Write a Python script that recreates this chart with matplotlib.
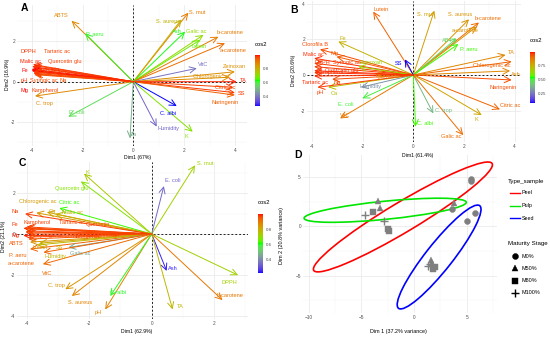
import numpy as np
import matplotlib
matplotlib.use("Agg")
import matplotlib.pyplot as plt
from matplotlib.colors import ListedColormap, Normalize
from matplotlib.cm import ScalarMappable
from matplotlib.patches import Ellipse
from matplotlib.lines import Line2D

plt.rcParams['font.family'] = ['Liberation Sans', 'DejaVu Sans']

# ---------------- DATA ----------------
# Panel A (Dim1 67%, Dim2 16.9%)
names_A = ["ABTS", "P. aeru", "S. mut", "S. aureus", "Ash", "Galic ac", "Lutein", "b-carotene",
           "a-carotene", "VitC", "Zeinoxan", "Chlorogenic ac", "TA", "Citric ac", "SS", "Naringenin",
           "C. albi", "Humidity", "K", "Ca", "E. coli", "C. trop", "DPPH", "Tartaric ac", "Malic ac",
           "Quercetin glu", "Fe", "Quercetin", "Clorofila B", "pH", "Syringic ac", "Na", "Mg", "Kampherol"]
x_A = [-2.43, -1.90, 2.17, 1.90, 2.04, 2.76, 2.63, 3.35, 3.61, 2.50, 4.00, 3.80, 4.07, 3.94, 4.00, 4.00,
       1.71, 0.92, 2.34, -0.13, -2.56, -3.87, -3.95, -3.90, -3.98, -3.92, -4.00, -3.95, -3.90, -3.93,
       -3.85, -3.90, -4.00, -3.92]
y_A = [3.01, 2.39, 3.41, 3.08, 2.47, 2.31, 2.06, 2.22, 1.90, 0.66, 0.49, 0.22, 0.00, -0.28, -0.54, -0.66,
       -1.20, -2.22, -2.47, -2.80, -1.73, -0.71, 0.85, 0.80, 0.75, 0.70, 0.62, 0.58, 0.50, 0.42,
       0.38, 0.35, 0.55, 0.48]
cos2_A = [0.88, 0.62, 0.90, 0.80, 0.63, 0.72, 0.68, 0.90, 0.92, 0.40, 0.87, 0.87, 0.99, 0.97, 0.98, 0.94,
          0.27, 0.38, 0.70, 0.50, 0.58, 0.88, 0.98, 0.97, 0.99, 0.97, 1.00, 0.98, 0.97, 0.98,
          0.96, 0.96, 1.00, 0.97]

# Panel B (Dim1 61.4%, Dim2 20.6%)
names_B = ["Lutein", "S. mut", "S. aureus", "b-carotene", "a-carotene", "ABTS", "P. aeru", "TA",
           "Chlorogenic ac", "Ash", "Naringenin", "Citric ac", "K", "C. trop", "C. albi", "Galic ac",
           "VitC", "E. coli", "Humidity", "Ca", "pH", "Na", "Tartaric ac", "Fe", "Clorofila B",
           "Malic ac", "Mg", "DPPH", "Syringic ac", "Zeinoxan", "Quercetin", "SS", "Quercetin glu",
           "Kampherol"]
x_B = [-1.58, 0.83, 2.20, 2.59, 2.50, 1.71, 1.78, 3.64, 3.88, 3.82, 3.88, 3.42, 2.70, 0.79, 0.09, 1.97,
       -2.89, -2.01, -2.07, -3.36, -3.78, -3.20, -3.91, -2.96, -3.68, -3.91, -3.03, -3.91, -3.91,
       -2.17, -1.51, -0.33, -3.91, -3.91]
y_B = [3.56, 3.62, 3.13, 2.95, 2.72, 2.06, 1.74, 1.13, 0.75, 0.23, -0.28, -1.93, -2.25, -2.16, -2.91,
       -3.38, -2.44, -1.31, -0.69, -0.69, -0.69, -0.24, -0.06, 1.88, 1.44, 0.94, 1.03, 0.66, 0.47,
       0.47, 0.06, 0.88, 0.24, 0.13]
cos2_B = [0.92, 0.80, 0.82, 0.90, 0.83, 0.45, 0.55, 0.85, 0.92, 0.85, 0.95, 0.92, 0.78, 0.38, 0.55, 0.90,
          0.88, 0.50, 0.30, 0.72, 0.97, 0.95, 0.98, 0.75, 0.95, 0.98, 0.93, 0.97, 0.97, 0.65, 0.85,
          0.07, 0.98, 0.98]

# Panel C (Dim1 62.9%, Dim2 21.1%)
names_C = ["S. mut", "K", "Quercetin glu", "E. coli", "Chlorogenic ac", "Citric ac", "Ca", "Malic ac",
           "Na", "Fe", "Kampherol", "Tartaric ac", "Quercetin", "Mg", "Syringic ac", "Clorofila B",
           "ABTS", "Lutein", "SS", "P. aeru", "Humidity", "Galic ac", "a-carotene", "VitC", "C. trop",
           "S. aureus", "pH", "C. albi", "Ash", "TA", "DPPH", "b-carotene", "Naringenin", "Zeinoxan"]
x_C = [1.39, -2.17, -2.27, 0.39, -3.70, -2.96, -3.36, -3.10, -4.06, -4.11, -4.00, -4.00, -4.05, -4.11,
       -4.05, -3.95, -3.95, -3.90, -3.60, -3.90, -3.68, -2.67, -3.47, -3.49, -2.77, -2.56, -1.49,
       -1.33, 0.48, 0.67, 2.77, 2.27, -4.00, -3.95]
y_C = [3.37, 2.96, 2.58, 2.35, 1.04, 1.27, 1.07, 0.98, 0.99, 0.28, 0.35, 0.30, 0.25, -0.08, 0.10, 0.05,
       -0.25, -0.40, -0.45, -0.74, -0.54, -0.66, -0.90, -1.48, -2.71, -3.04, -3.70, -3.04, -1.81,
       -3.70, -2.02, -3.24, 0.15, -0.15]
cos2_C = [0.72, 0.74, 0.68, 0.34, 0.84, 0.62, 0.82, 0.80, 0.97, 0.98, 0.97, 0.96, 0.96, 0.99, 0.97,
          0.96, 0.95, 0.85, 0.82, 0.93, 0.78, 0.45, 0.93, 0.92, 0.85, 0.88, 0.88, 0.60, 0.24, 0.78,
          0.72, 0.90, 0.97, 0.96]

# Panel D (individuals)
ind_x = [5.40, 5.45, 3.75, -2.50, -2.35, -2.85, 3.60, -3.45, -3.25, -3.90, -4.60, 5.05, 5.80,
         1.60, 1.75, 1.80, 1.95, 1.35, 1.50]
ind_y = [4.80, 4.60, 2.40, -0.25, -0.50, 0.50, 1.75, 2.55, 1.85, 1.45, 1.15, 0.50, 1.35,
         -3.45, -3.70, -4.30, -4.10, -4.00, -3.80]
ind_stage = ["M0%", "M0%", "M50%", "M80%", "M80%", "M100%", "M0%", "M50%", "M50%", "M80%", "M100%",
             "M0%", "M0%", "M50%", "M50%", "M80%", "M80%", "M100%", "M100%"]
types = ["Peel", "Pulp", "Seed"]
stages = ["M0%", "M50%", "M80%", "M100%"]
# confidence ellipses: centre x, centre y, semi-major, semi-minor, angle (deg)
ell_cx = [-1.05, -2.73, 2.38]
ell_cy = [0.95, 1.63, -3.12]
ell_a = [10.05, 7.73, 6.48]
ell_b = [1.48, 0.92, 1.29]
ell_ang = [32.8, 6.05, 53.7]

# ---------------- LAYOUT (label placements) ----------------
lab_A = [(-2.82, 3.29), (-1.50, 2.34), (2.52, 3.41), (1.38, 2.96), (1.71, 2.47), (2.47, 2.47), (2.59, 1.76),
         (3.81, 2.44), (3.94, 1.53), (2.76, 0.87), (4.00, 0.74), (3.09, 0.28), (4.31, 0.05), (3.61, -0.28),
         (4.27, -0.57), (3.61, -1.04), (1.38, -1.56), (1.38, -2.30), (2.10, -2.72), (0.02, -2.63),
         (-2.23, -1.53), (-3.48, -1.07), (-4.13, 1.48), (-3.02, 1.48), (-4.04, 1.02), (-2.69, 1.02),
         (-4.29, 0.54), (-3.35, 0.60), (-3.15, 0.45), (-4.30, 0.07), (-3.54, 0.07), (-2.76, 0.07),
         (-4.30, -0.41), (-3.48, -0.41)]
lab_B = [(-1.28, 3.70), (0.46, 3.38), (1.84, 3.38), (2.96, 3.19), (2.04, 2.48), (1.41, 1.93), (2.17, 1.44),
         (3.88, 1.28), (3.09, 0.53), (4.04, 0.00), (3.55, -0.69), (3.82, -1.69), (2.50, -2.50),
         (1.18, -1.97), (0.46, -2.72), (1.49, -3.47), (-2.70, -2.25), (-2.67, -1.63), (-1.67, -0.62),
         (-3.12, -1.03), (-3.68, -0.99), (-2.99, -0.43), (-3.86, -0.43), (-2.80, 2.06), (-3.86, 1.69),
         (-3.95, 1.13), (-3.12, 1.22), (-3.59, 0.69), (-2.63, 0.69), (-1.64, 0.69), (-0.99, -0.06),
         (-0.59, 0.66), (-2.83, 0.28), (-3.30, 0.12)]
lab_C = [(1.72, 3.45), (-2.06, 3.01), (-2.56, 2.25), (0.67, 2.63), (-3.66, 1.60), (-2.64, 1.56),
         (-3.20, 1.10), (-2.53, 1.04), (-4.38, 1.10), (-4.38, 0.49), (-3.68, 0.54), (-2.56, 0.54),
         (-1.71, 0.49), (-4.36, -0.05), (-3.26, -0.08), (-2.40, -0.08), (-4.33, -0.49), (-3.58, -0.66),
         (-2.96, -0.66), (-4.30, -1.04), (-3.09, -1.10), (-2.29, -0.94), (-4.18, -1.43), (-3.36, -1.92),
         (-3.06, -2.52), (-2.29, -3.37), (-1.71, -3.83), (-1.07, -2.85), (0.69, -1.69), (0.91, -3.54),
         (2.49, -2.38), (2.51, -3.01), (-2.10, -0.12), (-1.40, -0.05)]

W, H = 550, 338

M_RGB2XYZ = np.array([[0.4124564, 0.3575761, 0.1804375],
                      [0.2126729, 0.7151522, 0.0721750],
                      [0.0193339, 0.1191920, 0.9503041]])
WHITE = np.array([0.95047, 1.0, 1.08883])


def lab_from_rgb(rgb):
    c = np.asarray(rgb, float)
    lin = np.where(c <= 0.04045, c / 12.92, ((c + 0.055) / 1.055) ** 2.4)
    xyz = M_RGB2XYZ @ lin / WHITE
    d = 6 / 29
    f = np.where(xyz > d ** 3, np.cbrt(xyz), xyz / (3 * d * d) + 4 / 29)
    return np.array([116 * f[1] - 16, 500 * (f[0] - f[1]), 200 * (f[1] - f[2])])


def rgb_from_lab(lab):
    L, a, b = lab
    fy = (L + 16) / 116
    f = np.array([fy + a / 500, fy, fy - b / 200])
    d = 6 / 29
    t = np.where(f > d, f ** 3, 3 * d * d * (f - 4 / 29))
    lin = np.linalg.inv(M_RGB2XYZ) @ (t * WHITE)
    lin = np.clip(lin, 0, 1)
    c = np.where(lin <= 0.0031308, 12.92 * lin, 1.055 * lin ** (1 / 2.4) - 0.055)
    return np.clip(c, 0, 1)


stops = [lab_from_rgb(c) for c in [(0, 0, 1), (0, 1, 0), (1, 0, 0)]]
cols = []
for t in np.linspace(0, 1, 256):
    if t <= 0.5:
        u = t / 0.5
        lab = stops[0] * (1 - u) + stops[1] * u
    else:
        u = (t - 0.5) / 0.5
        lab = stops[1] * (1 - u) + stops[2] * u
    cols.append(rgb_from_lab(lab))
CMAP = ListedColormap(cols)

fig = plt.figure(figsize=(W / 100, H / 100), dpi=100)


def px_rect(x0, y0, x1, y1):
    return [x0 / W, 1 - y1 / H, (x1 - x0) / W, (y1 - y0) / H]


GRID_MAJ = '#EBEBEB'
GRID_MIN = '#F5F5F5'
TICK_COL = '#4D4D4D'


def style_axes(ax, xmaj, ymaj, xmin, ymin, xpad=1.5, ypad=1.5):
    for s in ax.spines.values():
        s.set_visible(False)
    ax.set_xticks(xmaj)
    ax.set_yticks(ymaj)
    ax.set_xticks(xmin, minor=True)
    ax.set_yticks(ymin, minor=True)
    ax.grid(True, which='major', color=GRID_MAJ, lw=0.6)
    ax.grid(True, which='minor', color=GRID_MIN, lw=0.35)
    ax.set_axisbelow(True)
    ax.tick_params(which='both', length=0, labelsize=3.4, colors=TICK_COL)
    ax.tick_params(axis='x', pad=xpad)
    ax.tick_params(axis='y', pad=ypad)


def biplot(px, mapping, names, xs, ys, c2, labs, vmin, vmax, xlabel, ylabel, xl_pos, yl_pos,
           letter, letter_pos, cbar_px, cbar_ticks, cbar_fmt, xmaj, ymaj, xmin, ymin):
    x0, y0, x1, y1 = px
    xz, xs_, yz, ys_ = mapping
    ax = fig.add_axes(px_rect(x0, y0, x1, y1))
    ax.set_xlim((x0 - xz) / xs_, (x1 - xz) / xs_)
    ax.set_ylim((yz - y1) / ys_, (yz - y0) / ys_)
    style_axes(ax, xmaj, ymaj, xmin, ymin)
    ax.set_xticklabels([f"{v:g}" for v in xmaj])
    ax.set_yticklabels([f"{v:g}" for v in ymaj])
    ax.axhline(0, color='#222222', lw=0.7, ls=(0, (2, 2)), zorder=1)
    ax.axvline(0, color='#222222', lw=0.7, ls=(0, (2, 2)), zorder=1)
    norm = Normalize(vmin, vmax)
    for n, x, y, c in zip(names, xs, ys, c2):
        col = CMAP(norm(c))
        ax.annotate('', xy=(x, y), xytext=(0, 0),
                    arrowprops=dict(arrowstyle='->,head_length=0.45,head_width=0.22', lw=0.7,
                                    color=col, shrinkA=0, shrinkB=0), zorder=2)
    for n, c, (lx, ly) in zip(names, c2, labs):
        col = CMAP(norm(c))
        ax.text(lx, ly, n, color=col, fontsize=4.1, ha='center', va='center', zorder=3)
    fig.text(xl_pos[0] / W, 1 - xl_pos[1] / H, xlabel, fontsize=3.7, ha='center', va='center')
    fig.text(yl_pos[0] / W, 1 - yl_pos[1] / H, ylabel, fontsize=3.7, ha='center', va='center',
             rotation=90)
    fig.text(letter_pos[0] / W, 1 - letter_pos[1] / H, letter, fontsize=7.5, fontweight='bold',
             ha='center', va='center')
    cx0, cy0, cx1, cy1 = cbar_px
    cax = fig.add_axes(px_rect(cx0, cy0, cx1, cy1))
    cb = fig.colorbar(ScalarMappable(norm=norm, cmap=CMAP), cax=cax, ticks=cbar_ticks)
    cb.outline.set_visible(False)
    cb.ax.set_yticklabels([cbar_fmt.format(t) for t in cbar_ticks])
    cb.ax.tick_params(length=1.2, width=0.4, color='white', labelsize=3.2, labelcolor=TICK_COL, pad=1)
    fig.text(cx0 / W, 1 - (cy0 - 11) / H, "cos2", fontsize=4.2, ha='left', va='center')
    return ax


biplot((17, 5, 247, 146), (133.3, 25.4, 81.7, 20.25), names_A, x_A, y_A, cos2_A, lab_A, 0.27, 1.0,
       "Dim1 (67%)", "Dim2 (16.9%)", (137, 157), (8, 74), "A", (24, 8),
       (255, 55, 260, 106), [0.4, 0.6, 0.8], "{:.1f}",
       [-4, -2, 0, 2, 4], [-2, 0, 2], [-3, -1, 1, 3], [-3, -1, 1, 3])

biplot((307, 1, 521, 142), (413.3, 25.35, 75, 17.8), names_B, x_B, y_B, cos2_B, lab_B, 0.07, 1.0,
       "Dim1 (61.4%)", "Dim2 (20.6%)", (418, 155), (293, 70), "B", (294, 10),
       (530, 52, 535, 103), [0.25, 0.50, 0.75], "{:.2f}",
       [-4, -2, 0, 2, 4], [-2, 0, 2, 4], [-3, -1, 1, 3], [-3, -1, 1, 3])

biplot((17, 162, 248, 319), (151.7, 31.2, 234, 20.4), names_C, x_C, y_C, cos2_C, lab_C, 0.22, 1.0,
       "Dim1 (62.9%)", "Dim2 (21.1%)", (137, 332), (3.5, 236), "C", (22, 163),
       (258, 214, 263, 273), [0.4, 0.6, 0.8], "{:.1f}",
       [-4, -2, 0, 2], [-4, -2, 0, 2], [-3, -1, 1, 3], [-3, -1, 1, 3])

# ---------------- Panel D ----------------
x0, y0, x1, y1 = 303, 155, 497, 313
xz, xsc, yz, ysc = 414, 10.55, 226.3, 9.84
axd = fig.add_axes(px_rect(x0, y0, x1, y1))
axd.set_xlim((x0 - xz) / xsc, (x1 - xz) / xsc)
axd.set_ylim((yz - y1) / ysc, (yz - y0) / ysc)
style_axes(axd, [-10, -5, 0, 5], [-5, 0, 5], [-7.5, -2.5, 2.5, 7.5], [-7.5, -2.5, 2.5])
type_cols = {"Peel": "#FF0000", "Pulp": "#00E600", "Seed": "#0000FF"}
stage_mk = {"M0%": ('o', 4.3), "M50%": ('^', 4.6), "M80%": ('s', 4.3), "M100%": ('+', 6.0)}
for t, cx, cy, a, b, ang in zip(types, ell_cx, ell_cy, ell_a, ell_b, ell_ang):
    axd.add_patch(Ellipse((cx, cy), 2 * a, 2 * b, angle=ang, fill=False, ec=type_cols[t], lw=1.2,
                          zorder=2))
for x, y, s in zip(ind_x, ind_y, ind_stage):
    mk, ms = stage_mk[s]
    axd.plot([x], [y], marker=mk, ms=ms, color='#7F7F7F', mew=1.0 if mk == '+' else 0.3,
             ls='none', zorder=3)
fig.text(398 / W, 1 - 332 / H, "Dim 1 (37.2% variance)", fontsize=3.9, ha='center', va='center')
fig.text(282 / W, 1 - 236 / H, "Dim 2 (20.8% variance)", fontsize=3.9, ha='center', va='center',
         rotation=90)
fig.text(298 / W, 1 - 155 / H, "D", fontsize=7.5, fontweight='bold', ha='center', va='center')

# legend D
fig.text(508 / W, 1 - 181 / H, "Type_sample", fontsize=4.4, ha='left', va='center')
for i, t in enumerate(types):
    yy = 1 - (193 + 12.5 * i) / H
    fig.add_artist(Line2D([510 / W, 520 / W], [yy, yy], color=type_cols[t], lw=1.0))
    fig.text(522 / W, yy, t, fontsize=3.9, ha='left', va='center')
fig.text(508 / W, 1 - 244 / H, "Maturity Stage", fontsize=4.4, ha='left', va='center')
for i, s in enumerate(stages):
    yy = 1 - (256 + 12.3 * i) / H
    mk, ms = stage_mk[s]
    fig.add_artist(Line2D([514.5 / W], [yy], marker=mk, ms=ms, color='black', ls='none',
                          mew=1.0 if mk == '+' else 0.3))
    fig.text(522 / W, yy, s, fontsize=3.9, ha='left', va='center')

fig.savefig("out.png", dpi=100)
